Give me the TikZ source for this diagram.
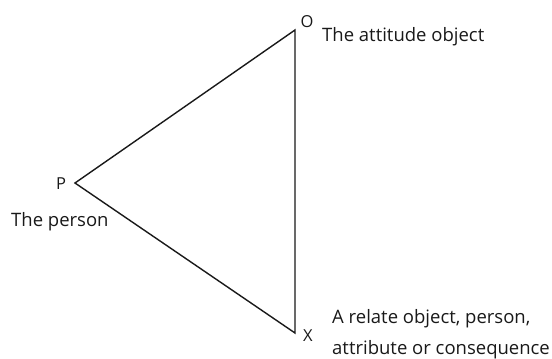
\documentclass[tikz,border=0pt]{standalone}
\usepackage{fontspec}
\setmainfont{Open Sans}
\begin{document}
\begin{tikzpicture}[x=1pt,y=1pt,
  lbl/.style={inner sep=0pt, anchor=base west, font=\fontsize{18.5}{22}\selectfont, text=black!90},
  vtx/.style={inner sep=0pt, font=\fontsize{16.5}{19}\selectfont, text=black!90},
  edge/.style={line width=1.4pt, black!90}]
\useasboundingbox (0,0) rectangle (552,359);
\coordinate (O) at (295,329);
\coordinate (P) at (75,176);
\coordinate (X) at (295,26);
\draw[edge] (O) -- (P) -- (X) -- cycle;
\node[vtx] (lo) at (307,337) {O};
\node[vtx] (lp) at (61,175) {P};
\node[vtx] (lx) at (308,23) {X};
\node[lbl] (to) at (322,317) {The attitude object};
\node[lbl] (tp) at (11,132) {The person};
\node[lbl] (tx1) at (332,35) {A relate object, person,};
\node[lbl] (tx2) at (332,4) {attribute or consequence};
\end{tikzpicture}
\end{document}
